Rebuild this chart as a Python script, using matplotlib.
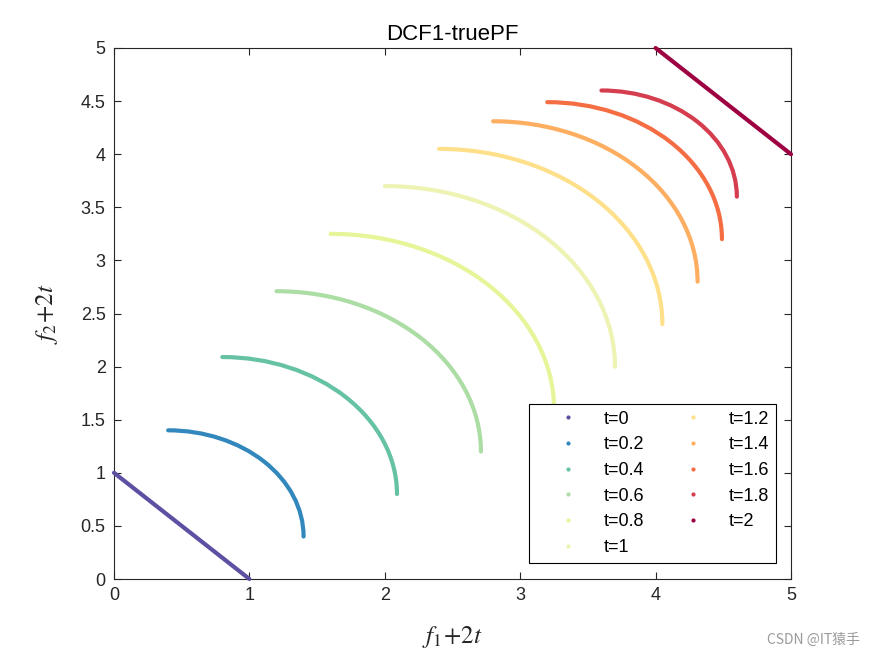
import matplotlib
matplotlib.use("Agg")
import matplotlib.pyplot as plt
from matplotlib.lines import Line2D
from matplotlib.patches import Arc

# ---- data (axes: f1+2t, f2+2t) ----
labels = ["t=0", "t=0.2", "t=0.4", "t=0.6", "t=0.8", "t=1",
          "t=1.2", "t=1.4", "t=1.6", "t=1.8", "t=2"]

# t=0 and t=2 fronts are straight segments
x_t00 = [0.0, 1.0]
y_t00 = [1.0, 0.0]
x_t20 = [4.0, 5.0]
y_t20 = [5.0, 4.0]

# t=0.2 ... t=1.8 fronts are quarter circles: corner (centre) and radius
arc_labels = ["t=0.2", "t=0.4", "t=0.6", "t=0.8", "t=1",
              "t=1.2", "t=1.4", "t=1.6", "t=1.8"]
arc_cx = [0.4, 0.8, 1.2, 1.6, 2.0, 2.4, 2.8, 3.2, 3.6]
arc_cy = [0.4, 0.8, 1.2, 1.6, 2.0, 2.4, 2.8, 3.2, 3.6]
arc_r = [1.00, 1.29, 1.51, 1.65, 1.70, 1.65, 1.51, 1.29, 1.00]

colors = ["#5e4fa2", "#3288bd", "#66c2a5", "#abdda4", "#e6f598", "#eef3b4",
          "#fee08b", "#fdae61", "#f46d43", "#d53e4f", "#9e0142"]

xticks = [0, 1, 2, 3, 4, 5]
xticklabels = ["0", "1", "2", "3", "4", "5"]
yticks = [0, 0.5, 1, 1.5, 2, 2.5, 3, 3.5, 4, 4.5, 5]
yticklabels = ["0", "0.5", "1", "1.5", "2", "2.5", "3", "3.5", "4", "4.5", "5"]

plt.rcParams["font.family"] = ["Liberation Sans", "DejaVu Sans"]
plt.rcParams["mathtext.fontset"] = "stix"

fig = plt.figure(figsize=(8.75, 6.56), dpi=100)
ax = fig.add_axes([114 / 875, 77 / 656, 677 / 875, 531 / 656])

LW = 3.0
ax.plot(x_t00, y_t00, color=colors[0], lw=LW, solid_capstyle="round",
        clip_on=False, zorder=3)
for cx, cy, r, c in zip(arc_cx, arc_cy, arc_r, colors[1:-1]):
    a = Arc((cx, cy), 2 * r, 2 * r, theta1=0, theta2=90, color=c, lw=LW,
            zorder=3)
    a.set_capstyle("round")
    ax.add_patch(a)
ax.plot(x_t20, y_t20, color=colors[-1], lw=LW, solid_capstyle="round",
        clip_on=False, zorder=3)

ax.set_xlim(0, 5)
ax.set_ylim(0, 5)
ax.set_xticks(xticks)
ax.set_xticklabels(xticklabels)
ax.set_yticks(yticks)
ax.set_yticklabels(yticklabels)

axcol = "#262626"
for s in ax.spines.values():
    s.set_color(axcol)
    s.set_linewidth(0.8)
ax.tick_params(direction="in", length=5, width=0.8, colors=axcol,
               labelsize=13, top=True, right=True, pad=6)

ax.set_title("DCF1-truePF", fontsize=16, color="black", pad=6)
ax.set_xlabel(r"$f_1\!+\!2t$", fontsize=18, color=axcol, labelpad=14)
ax.set_ylabel(r"$f_2\!+\!2t$", fontsize=18, color=axcol, labelpad=15)

handles = [Line2D([], [], ls="none", marker="o", markersize=3, color=c,
                  markeredgewidth=0) for c in colors]
leg = ax.legend(handles, labels, ncol=2, loc="lower right",
                bbox_to_anchor=(0.978, 0.0307), borderaxespad=0,
                fontsize=13, frameon=True, fancybox=False,
                edgecolor="black", framealpha=1, handlelength=3.54,
                handletextpad=0.22, labelspacing=0.48, borderpad=0.38,
                columnspacing=0.9)
leg.get_frame().set_linewidth(0.8)
leg.set_zorder(5)

fig.text(860 / 875, 1 - 640 / 656, "CSDN @IT猿手", ha="right", va="center",
         fontsize=10, color="#9a9a9a",
         family=["Noto Sans CJK SC", "DejaVu Sans"])

fig.savefig("out.png", dpi=100)
